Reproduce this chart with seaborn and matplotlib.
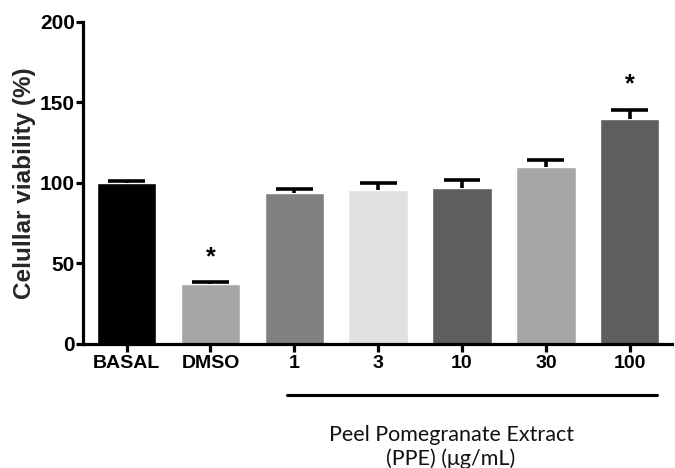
import matplotlib
matplotlib.use("Agg")
import matplotlib.pyplot as plt
import seaborn as sns
import pandas as pd
import numpy as np

categories = ["BASAL", "DMSO", "1", "3", "10", "30", "100"]
viability = [100.0, 37.3, 94.0, 95.6, 97.0, 110.2, 139.5]
sem = [1.2, 1.2, 2.4, 4.6, 5.0, 4.3, 6.0]
bar_colors = ["#000000", "#a6a6a6", "#808080", "#e1e1e1", "#5e5e5e", "#a6a6a6", "#5e5e5e"]
significant = ["DMSO", "100"]
star_y = [54, 161]

sns.set_theme(style="white")
plt.rcParams["font.family"] = ["Liberation Sans", "DejaVu Sans"]

df = pd.DataFrame({"group": categories, "viability": viability})

fig = plt.figure(figsize=(6.75, 4.68), dpi=100)
ax = fig.add_axes([0.123, 0.265, 0.872, 0.688])

sns.barplot(data=df, x="group", y="viability", order=categories,
            palette=bar_colors, hue="group", legend=False,
            width=0.71, ax=ax, errorbar=None, saturation=1)

xpos = np.arange(len(categories))
vals = np.array(viability)
errs = np.array(sem)
# upward-only error bars (stem + top cap)
ax.vlines(xpos, vals, vals + errs, colors="black", lw=2.6, zorder=5)
ax.hlines(vals + errs, xpos - 0.22, xpos + 0.22, colors="black", lw=2.6, zorder=5)

for cat, sy in zip(significant, star_y):
    ax.text(categories.index(cat), sy, "*", ha="center", va="center",
            fontsize=18, fontweight="bold", color="black")

ax.set_ylim(0, 200)
ax.set_xlim(-0.52, 6.5)
ax.set_yticks([0, 50, 100, 150, 200])
ax.set_xlabel("")
ax.set_ylabel("Celullar viability (%)", fontsize=17.5, fontweight="bold", labelpad=3)

for s in ["top", "right"]:
    ax.spines[s].set_visible(False)
for s in ["left", "bottom"]:
    ax.spines[s].set_linewidth(2.3)
    ax.spines[s].set_color("black")

ax.tick_params(axis="y", direction="out", length=5, width=2.3, colors="black",
               labelsize=15, pad=1, left=True)
ax.tick_params(axis="x", direction="out", length=6, width=2.3, colors="black",
               labelsize=14, pad=2, bottom=True)
for lab in ax.get_xticklabels() + ax.get_yticklabels():
    lab.set_fontweight("bold")

# bracket under PPE concentrations
ax.plot([1.91, 6.33], [-31.5, -31.5], color="black", lw=2.2, clip_on=False)
ax.text(3.87, -56.5, "Peel Pomegranate Extract", ha="center", va="center",
        fontsize=15.5, family=["Lato", "DejaVu Sans"], color="#111111", clip_on=False)
ax.text(3.87, -71.5, "(PPE) (μg/mL)", ha="center", va="center",
        fontsize=15.5, family=["Lato", "DejaVu Sans"], color="#111111", clip_on=False)

fig.savefig("out.png", dpi=100)
